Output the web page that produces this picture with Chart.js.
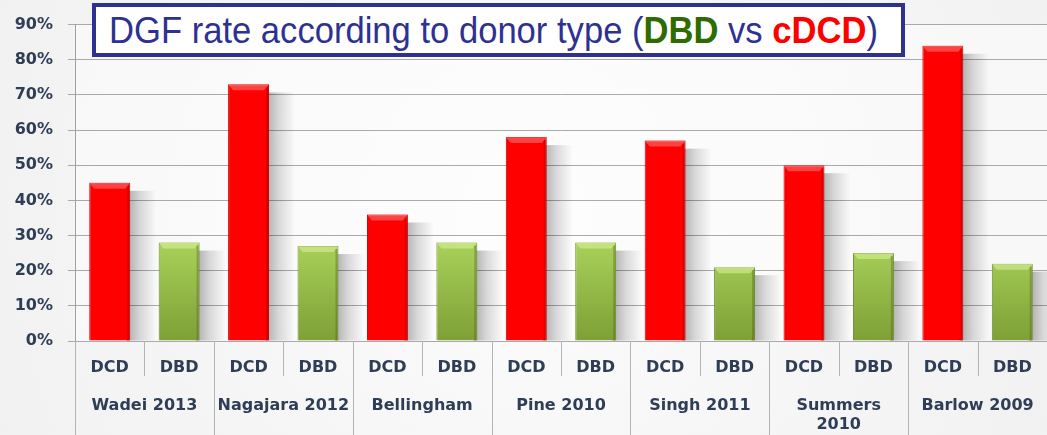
<!DOCTYPE html>
<html>
<head>
<meta charset="utf-8">
<script src="https://cdn.jsdelivr.net/npm/chart.js@4/dist/chart.umd.min.js"></script>
<style>
  html, body { margin: 0; padding: 0; background: #f4f4f4; }
  #wrap { position: relative; width: 1047px; height: 435px; overflow: hidden; }
  canvas { display: block; }
  #title {
    position: absolute; left: 92px; top: 3px; width: 813px; height: 54px;
    box-sizing: border-box; border: 4px solid #2e3192; background: #fff;
  }
  #title span {
    position: absolute; left: 13px; top: 3px; white-space: nowrap;
    font-family: "Liberation Sans", Arial, sans-serif; font-size: 37px;
    color: #2e3192; transform-origin: 0 0;
  }
  #title .g { color: #2f6b00; font-weight: bold; }
  #title .r { color: #ff0000; font-weight: bold; }
</style>
</head>
<body>
<div id="wrap">
  <canvas id="c" width="1047" height="435"></canvas>
  <div id="title"><span id="tt">DGF rate according to donor type (<b class="g">DBD</b> vs <b class="r">cDCD</b>)</span></div>
</div>
<script>
// Studies (outer axis level) and donor types (inner axis level)
const studies = ['Wadei 2013', 'Nagajara 2012', 'Bellingham', 'Pine 2010', 'Singh 2011', ['Summers', '2010'], 'Barlow 2009'];
const donorTypes = ['DCD', 'DBD'];

// Delayed graft function rate (%) per study
const dcdRates = [45, 73, 36, 58, 57, 50, 84];
const dbdRates = [28, 27, 28, 28, 21, 25, 22];

// Y axis tick values (%)
const yTicks = [0, 10, 20, 30, 40, 50, 60, 70, 80, 90];

// Condense the heading text to its box width
(function () {
  const tt = document.getElementById('tt');
  const w = tt.getBoundingClientRect().width;
  tt.style.transform = 'scaleX(' + (769 / w).toFixed(4) + ')';
})();

const inner = studies.flatMap(() => donorTypes);
const dcdData = inner.map((t, i) => (t === 'DCD' ? dcdRates[i >> 1] : null));
const dbdData = inner.map((t, i) => (t === 'DBD' ? dbdRates[i >> 1] : null));

const textColor = '#2f3e56';
const labelFont = { family: 'DejaVu Sans', weight: 'bold', size: 16 };

function greenFill(ctx) {
  const area = ctx.chart.chartArea;
  if (!area) return '#94bf46';
  const g = ctx.chart.ctx.createLinearGradient(0, area.bottom - area.height * 0.32, 0, area.bottom);
  g.addColorStop(0, '#a9d35b');
  g.addColorStop(1, '#7e9f36');
  return g;
}

const backdrop = {
  id: 'backdrop',
  beforeDraw(chart) {
    const { ctx, width, height, chartArea: a } = chart;
    ctx.save();
    ctx.fillStyle = '#eeeeee';
    ctx.fillRect(0, 0, width, height);
    const rg = ctx.createRadialGradient(width / 2, height / 2, 50, width / 2, height / 2, width * 0.6);
    rg.addColorStop(0, '#fbfbfb');
    rg.addColorStop(1, '#f0f0f0');
    ctx.fillStyle = rg;
    ctx.fillRect(0, 0, width, height);
    ctx.fillStyle = 'rgba(255,255,255,0.45)';
    ctx.fillRect(a.left, a.top, a.right - a.left, a.bottom - a.top);
    ctx.restore();
  }
};

// Soft drop shadow to the right of every bar, then a bevel highlight on top
const barShadow = {
  id: 'barShadow',
  beforeDatasetsDraw(chart) {
    const { ctx, chartArea: a } = chart;
    ctx.save();
    ctx.beginPath();
    ctx.rect(a.left, a.top - 10, a.right - a.left, a.bottom - a.top + 10);
    ctx.clip();
    chart.data.datasets.forEach((ds, di) => {
      chart.getDatasetMeta(di).data.forEach((el, i) => {
        if (ds.data[i] == null) return;
        const r = el.x + el.width / 2;
        const top = el.y + 8;
        const h = el.base - top;
        const gx = ctx.createLinearGradient(r - 4, 0, r + 26, 0);
        gx.addColorStop(0, 'rgba(0,0,0,0.32)');
        gx.addColorStop(0.45, 'rgba(0,0,0,0.14)');
        gx.addColorStop(1, 'rgba(0,0,0,0)');
        ctx.fillStyle = gx;
        ctx.fillRect(r - 4, top, 30, h);
      });
    });
    ctx.restore();
  },
  afterDatasetsDraw(chart) {
    const ctx = chart.ctx;
    chart.data.datasets.forEach((ds, di) => {
      chart.getDatasetMeta(di).data.forEach((el, i) => {
        if (ds.data[i] == null) return;
        const l = el.x - el.width / 2, r = el.x + el.width / 2, t = el.y;
        ctx.save();
        ctx.beginPath();
        ctx.moveTo(l, t); ctx.lineTo(r, t); ctx.lineTo(r - 5, t + 6); ctx.lineTo(l + 5, t + 6); ctx.closePath();
        ctx.fillStyle = di === 0 ? 'rgba(255,120,120,0.55)' : 'rgba(215,240,150,0.6)';
        ctx.fill();
        // darker right edge
        ctx.fillStyle = di === 0 ? 'rgba(150,0,0,0.35)' : 'rgba(70,90,20,0.35)';
        ctx.fillRect(r - 3, t + 3, 2, el.base - t - 3);
        ctx.restore();
      });
    });
  }
};

// Category separators below the value axis
const separators = {
  id: 'separators',
  afterDraw(chart) {
    const { ctx, chartArea: a, height } = chart;
    const xs = chart.scales.x;
    ctx.save();
    ctx.strokeStyle = '#b4b4b4';
    ctx.lineWidth = 1;
    for (let i = 1; i < inner.length; i++) {
      const x = Math.round((xs.getPixelForValue(i - 1) + xs.getPixelForValue(i)) / 2) + 0.5;
      const bottom = i % 2 === 0 ? height : a.bottom + 35;
      ctx.beginPath(); ctx.moveTo(x, a.bottom); ctx.lineTo(x, bottom); ctx.stroke();
    }
    const x0 = Math.round(a.left) + 0.5;
    ctx.beginPath(); ctx.moveTo(x0, a.bottom); ctx.lineTo(x0, height); ctx.stroke();
    ctx.restore();
  }
};

new Chart(document.getElementById('c'), {
  type: 'bar',
  data: {
    labels: inner,
    datasets: [
      { label: 'DCD', data: dcdData, xAxisID: 'x', skipNull: true,
        backgroundColor: '#ff0000', borderColor: '#c80000', borderWidth: 1 },
      { label: 'DBD', data: dbdData, xAxisID: 'x', skipNull: true,
        backgroundColor: greenFill, borderColor: '#6f8d2c', borderWidth: 1 }
    ]
  },
  options: {
    responsive: false,
    animation: false,
    layout: { padding: { top: 16, right: 0, left: 0, bottom: 0 } },
    datasets: { bar: { categoryPercentage: 1, barPercentage: 0.59 } },
    plugins: { legend: { display: false }, tooltip: { enabled: false } },
    scales: {
      x: {
        type: 'category',
        grid: { display: false },
        border: { display: false },
        ticks: { color: textColor, font: labelFont, padding: 9, maxRotation: 0, autoSkip: false },
        afterFit(s) { s.height = 45; }
      },
      x2: {
        type: 'category',
        axis: 'x',
        position: 'bottom',
        labels: studies,
        offset: true,
        grid: { display: false },
        border: { display: false },
        ticks: { color: textColor, font: labelFont, padding: 2, maxRotation: 0, autoSkip: false },
        afterFit(s) { s.height = 49; }
      },
      y: {
        min: 0,
        max: 90,
        afterBuildTicks(s) { s.ticks = yTicks.map(v => ({ value: v })); },
        ticks: { color: textColor, font: labelFont, padding: 15, callback: v => v + '%' },
        grid: { color: '#a9a9a9', lineWidth: 1, tickLength: 7 },
        border: { color: '#a0a0a0' },
        afterFit(s) { s.width = 75; }
      }
    }
  },
  plugins: [backdrop, barShadow, separators]
});
</script>
</body>
</html>
